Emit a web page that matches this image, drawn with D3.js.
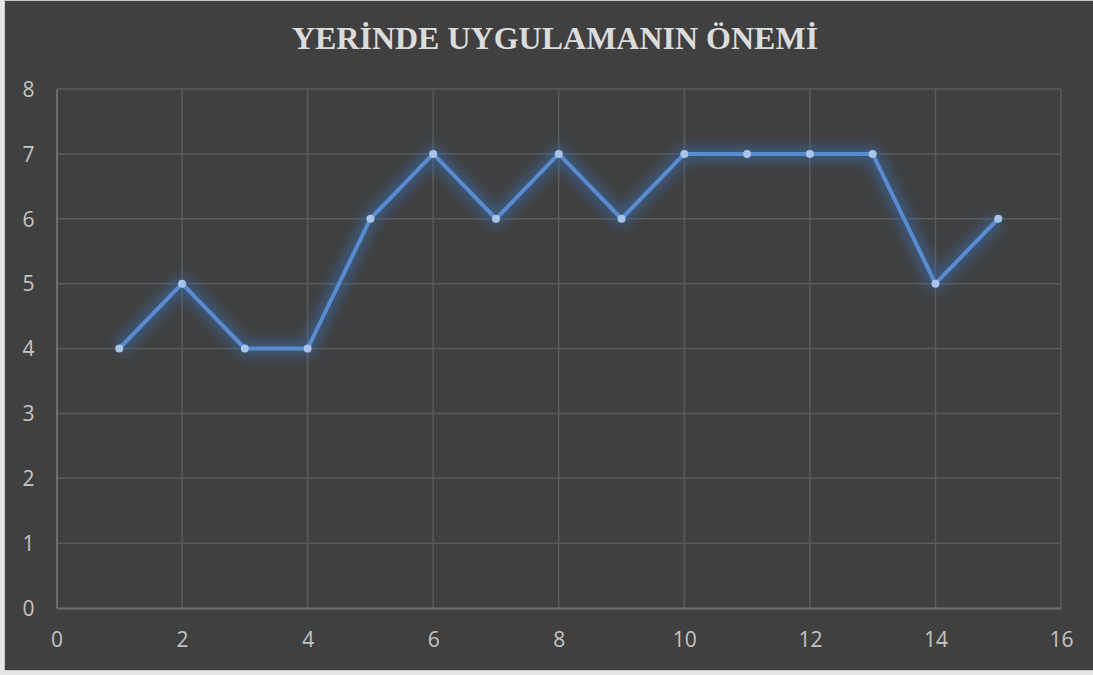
<!DOCTYPE html>
<html><head><meta charset="utf-8">
<script src="https://cdn.jsdelivr.net/npm/d3@7"></script>
<style>html,body{margin:0;padding:0;background:#e6e6e6;}svg{display:block;}</style>
</head><body>
<svg id="c" width="1093" height="675"></svg>
<script>
const xValues = [1,2,3,4,5,6,7,8,9,10,11,12,13,14,15];
const yValues = [4,5,4,4,6,7,6,7,6,7,7,7,7,5,6];
const xTicks = [0,2,4,6,8,10,12,14,16];
const yTicks = [0,1,2,3,4,5,6,7,8];
const title = "YERİNDE UYGULAMANIN ÖNEMİ";

const svg = d3.select("#c");
svg.append("rect").attr("x",4.5).attr("y",0.5).attr("width",1095).attr("height",670)
  .attr("fill","#404040").attr("stroke","#c8c8c8").attr("stroke-width",1);

const x = d3.scaleLinear().domain([0,16]).range([56.5,1061]);
const y = d3.scaleLinear().domain([0,8]).range([608,89]);

const defs = svg.append("defs");
const f = defs.append("filter").attr("id","glow").attr("x","-10%").attr("y","-10%").attr("width","120%").attr("height","120%");
f.append("feGaussianBlur").attr("stdDeviation",6);

// gridlines
svg.append("g").selectAll("line.h").data(yTicks.filter(d=>d>0)).join("line")
  .attr("x1",x(0)).attr("x2",x(16)).attr("y1",d=>y(d)).attr("y2",d=>y(d))
  .attr("stroke","#5a5a5a").attr("stroke-width",1.5);
svg.append("g").selectAll("line.v").data(xTicks.filter(d=>d>0)).join("line")
  .attr("y1",y(0)).attr("y2",y(8)).attr("x1",d=>x(d)).attr("x2",d=>x(d))
  .attr("stroke","#5a5a5a").attr("stroke-width",1.5);

// axes
const xAxis = svg.append("g").attr("transform",`translate(0,${y(0)})`)
  .call(d3.axisBottom(x).tickValues(xTicks).tickSize(0).tickPadding(24));
const yAxis = svg.append("g").attr("transform",`translate(${x(0)},0)`)
  .call(d3.axisLeft(y).tickValues(yTicks).tickSize(0).tickPadding(22));
[xAxis,yAxis].forEach(a=>{
  a.select(".domain").attr("stroke","#6e6e6e").attr("stroke-width",2);
  a.selectAll("text").attr("fill","#c4c4c4").attr("font-family","'Open Sans', sans-serif").attr("font-size",21);
});
yAxis.selectAll("text").attr("dy","0.35em");

const pts = xValues.map((d,i)=>[d,yValues[i]]);
const line = d3.line().x(d=>x(d[0])).y(d=>y(d[1]));

svg.append("path").attr("d",line(pts)).attr("fill","none")
  .attr("stroke","#3a6db3").attr("stroke-width",16).attr("stroke-opacity",0.5)
  .attr("stroke-linejoin","round").attr("filter","url(#glow)");
svg.append("path").attr("d",line(pts)).attr("fill","none")
  .attr("stroke","#588bd0").attr("stroke-width",4).attr("stroke-linejoin","round");
svg.append("g").selectAll("circle").data(pts).join("circle")
  .attr("cx",d=>x(d[0])).attr("cy",d=>y(d[1])).attr("r",4)
  .attr("fill","#a9c4ea");

svg.append("text").attr("x",555).attr("y",49).attr("text-anchor","middle")
  .attr("font-family","'Liberation Serif', serif").attr("font-weight","bold")
  .attr("font-size",32).attr("fill","#dcdcdc").text(title);
</script>
</body></html>
